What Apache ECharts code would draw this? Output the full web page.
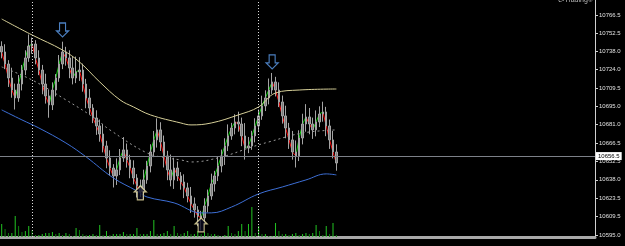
<!DOCTYPE html>
<html>
<head>
<meta charset="utf-8">
<script src="https://cdn.jsdelivr.net/npm/echarts@6/dist/echarts.min.js"></script>
<style>
  html, body { margin: 0; padding: 0; background: #000; }
  #chart { width: 625px; height: 246px; }
</style>
</head>
<body>
<div id="chart"></div>
<script>
// price bars (one slot per bar, the rest of the axis is empty space)
const slotCount = 176;
const firstOpen = 10742.0;
const closes = [
  10737.7, 10728.3, 10717.4, 10708.0, 10701.8, 10712.7, 10723.6, 10733.0, 10742.3, 10743.9,
  10733.0, 10723.6, 10712.7, 10703.4, 10696.4, 10708.0, 10717.4, 10728.3, 10737.7, 10733.0,
  10725.2, 10717.4, 10722.1, 10723.6, 10712.7, 10701.8, 10694.0, 10686.2, 10680.0, 10673.7,
  10664.4, 10655.0, 10647.2, 10641.0, 10645.7, 10655.0, 10661.3, 10653.5, 10647.2, 10639.4,
  10633.2, 10628.5, 10637.9, 10648.8, 10659.7, 10669.1, 10676.9, 10667.5, 10656.6, 10645.7,
  10637.9, 10647.2, 10641.0, 10636.3, 10631.7, 10625.4, 10619.2, 10614.5, 10609.8, 10608.3,
  10617.6, 10625.4, 10634.8, 10641.0, 10648.8, 10656.6, 10664.4, 10672.2, 10678.4, 10683.1,
  10681.5, 10672.2, 10662.8, 10664.4, 10672.2, 10680.0, 10687.8, 10695.6, 10701.8, 10708.0,
  10714.3, 10708.0, 10698.7, 10687.8, 10678.4, 10669.1, 10659.7, 10656.6, 10670.6, 10681.5,
  10687.0, 10681.5, 10676.9, 10683.1, 10689.3, 10690.9, 10680.0, 10669.1, 10659.7, 10651.1
];
// how far each bar's high / low sticks out past its body
const highExt = [
  4, 6, 3, 8, 5, 7, 4, 6, 9, 5, 3, 6, 4, 8, 5, 6, 3, 7, 8, 4,
  6, 9, 12, 10, 5, 4, 7, 3, 6, 5, 8, 4, 6, 3, 9, 7, 10, 5, 4, 6,
  3, 5, 8, 4, 6, 7, 9, 6, 5, 4, 12, 8, 5, 3, 6, 4, 7, 5, 3, 4,
  6, 5, 8, 4, 7, 5, 6, 9, 4, 6, 8, 5, 10, 7, 4, 6, 5, 8, 6, 9,
  7, 4, 6, 5, 8, 4, 7, 9, 6, 8, 10, 7, 5, 9, 6, 8, 4, 5, 7, 6
];
const lowExt = [
  5, 4, 7, 6, 9, 3, 5, 4, 3, 6, 5, 4, 8, 6, 10, 4, 5, 3, 4, 6,
  8, 5, 4, 7, 6, 8, 5, 4, 7, 6, 5, 8, 6, 9, 7, 4, 3, 6, 8, 5,
  9, 4, 6, 3, 5, 4, 6, 7, 9, 8, 5, 7, 4, 6, 8, 5, 7, 6, 8, 10,
  4, 5, 3, 6, 4, 5, 7, 4, 3, 5, 6, 8, 9, 4, 3, 5, 4, 3, 4, 5,
  3, 5, 4, 6, 8, 7, 6, 9, 4, 5, 6, 8, 7, 5, 4, 6, 8, 7, 5, 6
];
const volumes = [
  13, 8, 4, 4, 21, 11, 5, 6, 11, 7, 2, 2, 3, 4, 4, 5, 3, 4, 2, 4,
  3, 1, 9, 7, 3, 2, 2, 3, 2, 12, 2, 6, 2, 3, 3, 3, 5, 3, 3, 3,
  9, 3, 3, 3, 6, 17, 3, 3, 4, 6, 3, 11, 4, 3, 4, 6, 3, 3, 6, 3,
  5, 4, 3, 3, 2, 1, 2, 11, 4, 3, 6, 13, 6, 13, 30, 4, 11, 3, 3, 1,
  1, 14, 6, 3, 3, 2, 3, 4, 2, 3, 4, 3, 4, 12, 6, 2, 11, 3, 14, 2
];

// moving averages read at a few bars: [bar, price]
const yellowMa = [[0, 10763.4], [9, 10750.9], [18, 10739.2], [23, 10729.9], [29, 10714.3],
  [35, 10700.3], [39, 10694.8], [44, 10688.6], [53, 10682.3], [56, 10680.8], [62, 10682.3],
  [70, 10688.6], [76, 10694.8], [81, 10705.7], [88, 10708.0], [99, 10708.8]];
const blueMa = [[0, 10692.5], [6, 10684.7], [11, 10678.4], [19, 10666.7], [25, 10655.8],
  [33, 10639.5], [40, 10629.3], [43, 10624.6], [51, 10620.0], [59, 10612.2], [62, 10612.2],
  [68, 10616.8], [76, 10627.0], [83, 10632.4], [90, 10637.9], [96, 10642.6], [99, 10641.8]];
const midMa = [[0, 10726.0], [9, 10715.8], [19, 10700.3], [27, 10687.0], [32, 10676.9],
  [43, 10658.9], [49, 10655.0], [53, 10653.5], [56, 10651.9], [65, 10655.8], [74, 10663.6],
  [79, 10667.5], [89, 10674.5], [99, 10676.9]];

const downArrows = [[18, 10754.8], [80, 10729.9]];
const upArrows = [[41, 10627.8], [59, 10602.8]];
const separators = [9, 76];
const lastPrice = 10656.5;
const priceTicks = [10766.5, 10752.5, 10738.0, 10724.0, 10709.5, 10695.0, 10681.0,
  10666.5, 10652.5, 10638.0, 10623.5, 10609.5, 10595.0];

const chart = echarts.init(document.getElementById('chart'));

const slots = Array.from({ length: slotCount }, (_, i) => String(i));
const candles = closes.map((c, i) => {
  const o = i ? closes[i - 1] : firstOpen;
  return [o, c, Math.min(o, c) - lowExt[i], Math.max(o, c) + highExt[i]];
});
const steps = closes.map((c, i) => [i, i ? closes[i - 1] : firstOpen, c]);
const volBars = volumes.map((v, i) => ({
  value: v,
  itemStyle: { color: i && v < volumes[i - 1] ? '#0d7d0d' : '#22c422' },
}));

const axisFont = 'Liberation Sans';
const downPath = 'path://M3,0L9,0L9,8L12,8L6,14L0,8L3,8Z';
const upPath = 'path://M6,0L12,6L9,6L9,14L3,14L3,6L0,6Z';

chart.setOption({
  animation: false,
  backgroundColor: '#000',
  graphic: [{
    type: 'text',
    right: 32,
    top: -3,
    style: { text: 'e-Trading©', fill: '#bbbbbb', font: '7px ' + axisFont },
  }],
  grid: [
    { left: 0, right: 30, top: 0, bottom: 9 },
    { left: 0, right: 30, bottom: 9, height: 40 },
  ],
  xAxis: [
    {
      type: 'category',
      data: slots,
      axisLine: { show: true, onZero: false, lineStyle: { color: '#a8a8a8', width: 3 } },
      axisTick: { show: false },
      axisLabel: { show: false },
      splitLine: { show: false },
    },
    { type: 'category', data: slots, gridIndex: 1, show: false },
  ],
  yAxis: [
    {
      type: 'value',
      position: 'right',
      min: 10593.4,
      max: 10778.2,
      axisLine: { show: true, lineStyle: { color: '#d0d0d0', width: 1 } },
      axisTick: { show: true, length: 3, customValues: priceTicks, lineStyle: { color: '#d0d0d0' } },
      axisLabel: {
        customValues: priceTicks,
        formatter: (v) => v.toFixed(1),
        color: '#e0e0e0',
        fontSize: 6,
        fontFamily: axisFont,
        margin: 4,
      },
      splitLine: { show: false },
    },
    { type: 'value', gridIndex: 1, min: 0, max: 40, show: false },
  ],
  series: [
    {
      type: 'bar',
      xAxisIndex: 1,
      yAxisIndex: 1,
      barWidth: 1,
      data: volBars,
      silent: true,
    },
    {
      type: 'candlestick',
      data: candles,
      barWidth: 2,
      silent: true,
      itemStyle: {
        color: '#7a7a7a', color0: '#7a7a7a',
        borderColor: '#a4a4a4', borderColor0: '#a4a4a4', borderWidth: 1,
      },
      markLine: {
        silent: true,
        symbol: ['none', 'none'],
        data: [
          {
            yAxis: lastPrice,
            lineStyle: { color: '#7c8088', type: 'solid', width: 1 },
            label: {
              show: true,
              position: 'end',
              distance: 1,
              formatter: lastPrice.toFixed(1),
              color: '#000',
              backgroundColor: '#fff',
              padding: [1, 2],
              fontSize: 6,
              fontFamily: axisFont,
            },
          },
          ...separators.map((s) => ({
            xAxis: s,
            lineStyle: { color: '#dddddd', type: [1, 2], width: 1 },
            label: { show: false },
          })),
        ],
      },
    },
    {
      type: 'custom',
      data: steps,
      silent: true,
      encode: { x: 0, y: [1, 2] },
      renderItem: (params, api) => {
        const i = api.value(0);
        const from = api.coord([i === 0 ? 0 : i - 1, api.value(1)]);
        const to = api.coord([i, api.value(2)]);
        return {
          type: 'line',
          shape: { x1: from[0], y1: from[1], x2: to[0], y2: to[1] },
          style: { stroke: api.value(2) < api.value(1) ? '#ff1010' : '#10d010', lineWidth: 1 },
        };
      },
    },
    {
      type: 'line',
      data: midMa,
      smooth: 0.4,
      showSymbol: false,
      silent: true,
      lineStyle: { color: '#9a9a9a', width: 1, type: [2, 3] },
    },
    {
      type: 'line',
      data: yellowMa,
      smooth: 0.4,
      showSymbol: false,
      silent: true,
      lineStyle: { color: '#d6cf98', width: 1 },
    },
    {
      type: 'line',
      data: blueMa,
      smooth: 0.4,
      showSymbol: false,
      silent: true,
      lineStyle: { color: '#3d6fd6', width: 1 },
    },
    {
      type: 'scatter',
      data: downArrows,
      symbol: downPath,
      symbolSize: [12, 14],
      silent: true,
      itemStyle: { color: '#000', borderColor: '#5e9ff0', borderWidth: 1.2 },
      z: 5,
    },
    {
      type: 'scatter',
      data: upArrows,
      symbol: upPath,
      symbolSize: [12, 14],
      silent: true,
      itemStyle: { color: '#0a0a1e', borderColor: '#f3e7a8', borderWidth: 1.2 },
      z: 5,
    },
  ],
});
</script>
</body>
</html>
